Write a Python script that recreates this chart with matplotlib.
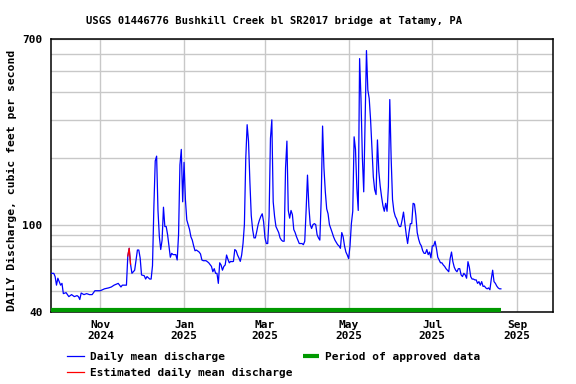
import pandas as pd
import matplotlib.pyplot as plt
from matplotlib.lines import Line2D
from matplotlib.ticker import FixedLocator, NullFormatter

# DATA -----------------------------------------------------------------------------------------------------------------
# daily mean discharge (cfs), read off the USGS hydrograph
dates = [
    '2024-09-26', '2024-09-28', '2024-09-29', '2024-09-30', '2024-10-01', '2024-10-02', '2024-10-03', '2024-10-04',
    '2024-10-05', '2024-10-07', '2024-10-09', '2024-10-11', '2024-10-13', '2024-10-15', '2024-10-16', '2024-10-17',
    '2024-10-18', '2024-10-20', '2024-10-22', '2024-10-24', '2024-10-26', '2024-10-28', '2024-11-01', '2024-11-04',
    '2024-11-07', '2024-11-09', '2024-11-11', '2024-11-14', '2024-11-16', '2024-11-17', '2024-11-20', '2024-11-21',
    '2024-11-22', '2024-11-23', '2024-11-24', '2024-11-26', '2024-11-28', '2024-11-29', '2024-11-30', '2024-12-01',
    '2024-12-03', '2024-12-04', '2024-12-05', '2024-12-07', '2024-12-08', '2024-12-09', '2024-12-10', '2024-12-11',
    '2024-12-12', '2024-12-13', '2024-12-14', '2024-12-15', '2024-12-16', '2024-12-17', '2024-12-18', '2024-12-19',
    '2024-12-20', '2024-12-21', '2024-12-22', '2024-12-23', '2024-12-24', '2024-12-26', '2024-12-27', '2024-12-28',
    '2024-12-29', '2024-12-30', '2024-12-31', '2025-01-01', '2025-01-02', '2025-01-03', '2025-01-04', '2025-01-05',
    '2025-01-06', '2025-01-07', '2025-01-08', '2025-01-09', '2025-01-10', '2025-01-12', '2025-01-13', '2025-01-14',
    '2025-01-15', '2025-01-17', '2025-01-18', '2025-01-19', '2025-01-21', '2025-01-22', '2025-01-23', '2025-01-24',
    '2025-01-25', '2025-01-26', '2025-01-27', '2025-01-28', '2025-01-29', '2025-01-30', '2025-01-31', '2025-02-01',
    '2025-02-02', '2025-02-03', '2025-02-04', '2025-02-05', '2025-02-06', '2025-02-07', '2025-02-08', '2025-02-09',
    '2025-02-10', '2025-02-11', '2025-02-12', '2025-02-13', '2025-02-14', '2025-02-15', '2025-02-16', '2025-02-17',
    '2025-02-18', '2025-02-19', '2025-02-20', '2025-02-21', '2025-02-22', '2025-02-23', '2025-02-24', '2025-02-25',
    '2025-02-26', '2025-02-27', '2025-02-28', '2025-03-01', '2025-03-02', '2025-03-03', '2025-03-04', '2025-03-05',
    '2025-03-06', '2025-03-07', '2025-03-08', '2025-03-09', '2025-03-10', '2025-03-11', '2025-03-12', '2025-03-13',
    '2025-03-14', '2025-03-15', '2025-03-16', '2025-03-17', '2025-03-18', '2025-03-19', '2025-03-20', '2025-03-21',
    '2025-03-22', '2025-03-23', '2025-03-24', '2025-03-25', '2025-03-26', '2025-03-27', '2025-03-28', '2025-03-29',
    '2025-03-30', '2025-03-31', '2025-04-01', '2025-04-02', '2025-04-03', '2025-04-04', '2025-04-05', '2025-04-06',
    '2025-04-07', '2025-04-08', '2025-04-09', '2025-04-10', '2025-04-11', '2025-04-12', '2025-04-13', '2025-04-14',
    '2025-04-15', '2025-04-16', '2025-04-17', '2025-04-18', '2025-04-19', '2025-04-20', '2025-04-21', '2025-04-22',
    '2025-04-23', '2025-04-24', '2025-04-25', '2025-04-26', '2025-04-27', '2025-04-28', '2025-04-29', '2025-04-30',
    '2025-05-01', '2025-05-02', '2025-05-03', '2025-05-04', '2025-05-05', '2025-05-06', '2025-05-07', '2025-05-08',
    '2025-05-09', '2025-05-10', '2025-05-11', '2025-05-12', '2025-05-13', '2025-05-14', '2025-05-15', '2025-05-16',
    '2025-05-17', '2025-05-18', '2025-05-19', '2025-05-20', '2025-05-21', '2025-05-22', '2025-05-23', '2025-05-24',
    '2025-05-25', '2025-05-26', '2025-05-27', '2025-05-28', '2025-05-29', '2025-05-30', '2025-05-31', '2025-06-01',
    '2025-06-02', '2025-06-03', '2025-06-04', '2025-06-05', '2025-06-06', '2025-06-07', '2025-06-08', '2025-06-09',
    '2025-06-10', '2025-06-11', '2025-06-12', '2025-06-13', '2025-06-14', '2025-06-15', '2025-06-16', '2025-06-17',
    '2025-06-18', '2025-06-19', '2025-06-20', '2025-06-21', '2025-06-22', '2025-06-23', '2025-06-24', '2025-06-25',
    '2025-06-26', '2025-06-27', '2025-06-28', '2025-06-29', '2025-06-30', '2025-07-01', '2025-07-02', '2025-07-03',
    '2025-07-04', '2025-07-05', '2025-07-06', '2025-07-07', '2025-07-08', '2025-07-09', '2025-07-10', '2025-07-11',
    '2025-07-12', '2025-07-13', '2025-07-14', '2025-07-15', '2025-07-16', '2025-07-17', '2025-07-18', '2025-07-19',
    '2025-07-20', '2025-07-21', '2025-07-22', '2025-07-23', '2025-07-24', '2025-07-25', '2025-07-26', '2025-07-27',
    '2025-07-28', '2025-07-29', '2025-07-30', '2025-07-31', '2025-08-01', '2025-08-02', '2025-08-03', '2025-08-04',
    '2025-08-05', '2025-08-06', '2025-08-07', '2025-08-08', '2025-08-09', '2025-08-10', '2025-08-11', '2025-08-12',
    '2025-08-13', '2025-08-14', '2025-08-15', '2025-08-16', '2025-08-17', '2025-08-18', '2025-08-19', '2025-08-20',
]
discharge = [
    60, 60, 58, 53, 57, 55, 53, 54,
    48.5, 49, 47, 48, 47, 47.5, 47, 45.6,
    48.8, 48, 48.5, 48, 48, 50, 50, 51,
    51.5, 52, 53, 54, 52, 53, 53, 72,
    78, 66, 60, 62, 76.6, 76.6, 70.5, 59,
    58.5, 56.5, 58, 56.5, 56.5, 65, 120, 195,
    205, 116, 88, 77, 85, 120, 98, 98,
    90, 80, 71, 74, 73, 73, 69, 90,
    187, 220, 127, 192, 130, 105, 100, 95,
    88, 85, 80, 76, 76.6, 75, 73.5, 69,
    68.5, 68.5, 67.8, 67, 64.5, 61, 63, 60,
    60, 54, 67, 65.5, 62, 64.5, 65.5, 72.7,
    69.5, 67, 68, 67.8, 68, 77, 76, 72.7,
    70.5, 68, 72.7, 82, 100, 200, 285, 240,
    157, 110, 95, 87, 87, 93, 100, 105,
    109, 112, 103, 87, 82, 82, 109, 247,
    300, 127, 109, 98, 95, 92, 87, 85,
    84, 84, 181, 240, 116, 107, 116, 111,
    95, 92, 88, 85, 82, 82, 82, 81,
    84, 116, 168, 121, 100, 96, 100, 101,
    100, 90, 87, 85, 130, 281, 181, 141,
    118, 112, 100, 96, 92, 88, 85, 83,
    81, 80, 78, 92, 88, 80, 75, 72.7,
    70, 80, 101, 115, 251, 220, 146, 116,
    570, 375, 203, 141, 295, 620, 410, 375,
    300, 220, 165, 144, 137, 243, 175, 150,
    134, 122, 115, 125, 115, 149, 371, 200,
    130, 115, 109, 106, 101, 98, 98, 105,
    114, 101, 90, 82, 92, 101, 101, 125,
    124, 110, 92, 86, 82, 80, 76, 74,
    74, 77, 73, 75, 70.5, 80, 80, 84,
    78, 71, 69, 67, 67, 65.5, 64.5, 63,
    62, 61, 70, 75, 67.8, 64, 62, 61,
    63, 63, 59, 58, 60, 59, 57, 67.8,
    64, 58, 56.5, 56.5, 56, 56, 54, 55,
    53, 55, 52.3, 52.5, 51.5, 51, 51.5, 50.5,
    56.5, 62, 55, 54, 52.5, 51.5, 51, 51,
]

# estimated days (drawn in red)
est_dates = ['2024-11-21', '2024-11-22', '2024-11-23']
est_discharge = [72, 78, 66]

# period of approved data
approved_start = '2024-09-26'
approved_end = '2025-08-20'

month_ticks = ['2024-11-01', '2025-01-01', '2025-03-01', '2025-05-01', '2025-07-01', '2025-09-01']
month_labels = ['Nov\n2024', 'Jan\n2025', 'Mar\n2025', 'May\n2025', 'Jul\n2025', 'Sep\n2025']
y_labeled = [40, 100, 700]
y_grid = [50, 60, 70, 80, 90, 200, 300, 400, 500, 600]

title = 'USGS 01446776 Bushkill Creek bl SR2017 bridge at Tatamy, PA'
ylabel = 'DAILY Discharge, cubic feet per second'

# PLOT -----------------------------------------------------------------------------------------------------------------
plt.rcParams['font.family'] = 'DejaVu Sans Mono'
plt.rcParams['font.weight'] = 'bold'

fig = plt.figure(figsize=(5.76, 3.84), dpi=100)
ax = fig.add_axes([51 / 576, 1 - 312 / 384, 502 / 576, 273 / 384])

t = pd.to_datetime(dates)
ax.plot(t, discharge, color='#0000ff', lw=0.9, zorder=3)
ax.plot(pd.to_datetime(est_dates), est_discharge, color='#ff0000', lw=0.9, zorder=4)

# green bar along the bottom for approved period
ax.plot(pd.to_datetime([approved_start, approved_end]), [0.008, 0.008], color='#009900', lw=3,
        solid_capstyle='butt', transform=ax.get_xaxis_transform(), clip_on=False, zorder=5)

ax.set_yscale('log')
ax.set_ylim(40, 700)
ax.set_xlim(pd.Timestamp('2024-09-26'), pd.Timestamp('2025-09-27'))

ax.yaxis.set_major_locator(FixedLocator(y_labeled))
ax.yaxis.set_minor_locator(FixedLocator(y_grid))
ax.yaxis.set_minor_formatter(NullFormatter())
ax.set_yticklabels([str(v) for v in y_labeled])
ax.set_xticks(pd.to_datetime(month_ticks))
ax.set_xticklabels(month_labels, linespacing=1.05)

ax.tick_params(which='both', length=0, labelsize=8)
ax.tick_params(axis='y', pad=6)
ax.tick_params(axis='x', pad=6)
ax.set_axisbelow(True)
ax.grid(True, which='both', color='#c8c8c8', lw=1.0)
for s in ax.spines.values():
    s.set_linewidth(1.1)
    s.set_color('black')

# labels
fig.text(274 / 576, 1 - 20.5 / 384, title, ha='center', va='center', fontsize=7.6, fontweight='bold')
fig.text(12 / 576, 1 - 180 / 384, ylabel, rotation=90, ha='center', va='center', fontsize=8.2, fontweight='bold')

# legend
fig.add_artist(Line2D([67 / 576, 84 / 576], [1 - 356 / 384] * 2, color='#0000ff', lw=0.9))
fig.text(90 / 576, 1 - 357 / 384, 'Daily mean discharge', va='center', fontsize=8)
fig.add_artist(Line2D([67 / 576, 84 / 576], [1 - 372 / 384] * 2, color='#ff0000', lw=0.9))
fig.text(90 / 576, 1 - 373 / 384, 'Estimated daily mean discharge', va='center', fontsize=8)
fig.add_artist(Line2D([303 / 576, 319 / 576], [1 - 356 / 384] * 2, color='#009900', lw=3, solid_capstyle='butt'))
fig.text(325 / 576, 1 - 357 / 384, 'Period of approved data', va='center', fontsize=8)

plt.savefig('out.png', dpi=100)
